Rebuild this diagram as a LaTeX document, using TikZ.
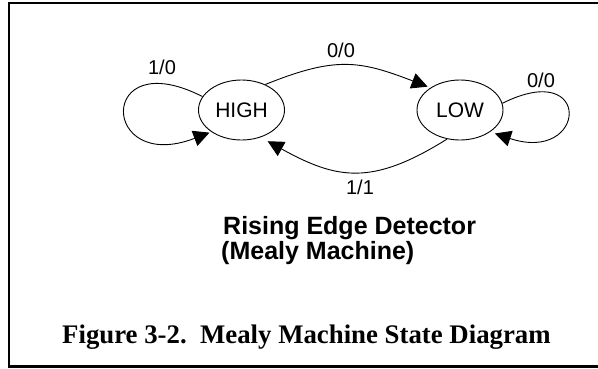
\documentclass[tikz,border=0pt]{standalone}
\usepackage{fontspec}
\setmainfont{Liberation Serif}
\setsansfont{Liberation Sans}
\usetikzlibrary{arrows.meta,shapes.geometric}

\begin{document}
\begin{tikzpicture}[x=1pt,y=1pt,
  state/.style={ellipse, draw, line width=0.9pt, minimum width=86pt,
    minimum height=60pt, inner sep=0pt,
    font=\sffamily\fontsize{21}{21}\selectfont},
  trans/.style={line width=0.9pt, -{Triangle[length=16pt,width=16pt]}},
  lbl/.style={anchor=base, inner sep=0pt,
    font=\sffamily\fontsize{20}{20}\selectfont},
  heading/.style={anchor=base west, inner sep=0pt,
    font=\sffamily\bfseries\fontsize{25}{25}\selectfont},
  caption/.style={anchor=base west, inner sep=0pt,
    font=\rmfamily\bfseries\fontsize{26.8}{27}\selectfont}]

\useasboundingbox (0,0) rectangle (598,-368);

% frame, open on the right
\draw[line width=2.5pt] (598,-3) -- (9,-3) -- (9,-366.5) -- (598,-366.5);

% states
\node[state] (high) at (241.5,-110) {HIGH};
\node[state] (low)  at (460,-110)   {LOW};

% transitions
\draw[trans, shorten >=2pt] (high.161) .. controls +(153:119) and +(201:119) .. (high.216);
\draw[trans, shorten >=3pt] (high.47) .. controls +(22:76) and +(159:76) .. (low.143);
\draw[trans, shorten >=8pt] (low.246) .. controls +(212:88) and +(331:88) .. (high.-55);
\draw[trans, shorten >=5pt] (low.9) .. controls +(26.6:102) and +(341.6:102) .. (low.-36);

% transition labels (input/output)
\node[lbl] (l10)  at (162,-74)  {1/0};
\node[lbl] (l00a) at (341,-57)  {0/0};
\node[lbl] (l00b) at (541,-87)  {0/0};
\node[lbl] (l11)  at (360,-194) {1/1};

% title
\node[heading] (t1) at (223,-234) {Rising Edge Detector};
\node[heading] (t2) at (221,-259) {(Mealy Machine)};

% caption
\node[caption] (cap) at (62,-343) {Figure 3-2.\ \ Mealy Machine State Diagram};
\end{tikzpicture}
\end{document}
